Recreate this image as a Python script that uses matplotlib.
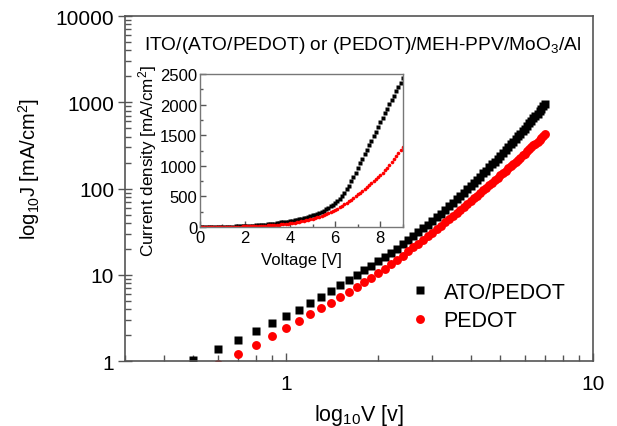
import numpy as np
import matplotlib
matplotlib.use("Agg")
import matplotlib.pyplot as plt
from matplotlib.ticker import FixedLocator, LogLocator, NullFormatter, FuncFormatter, MultipleLocator

plt.rcParams['font.family'] = ['Liberation Sans', 'DejaVu Sans']
plt.rcParams['mathtext.fontset'] = 'custom'
plt.rcParams['mathtext.rm'] = 'Liberation Sans'
plt.rcParams['mathtext.it'] = 'Liberation Sans:italic'

# log-log J-V sweep (0.5 V .. 7.0 V)
v_main = np.round(np.arange(0.5, 7.05, 0.1), 1)
j_ato_main = [1.02, 1.38, 1.77, 2.22, 2.75, 3.3, 3.95, 4.7, 5.55, 6.5, 7.55, 8.7, 9.95, 11.3, 12.8,
              14.4, 16.1, 18.1, 20.2, 22.6, 25.2, 28.0, 31.1, 34.5, 38.2,
              42.3, 46.7, 51.4, 56.6, 62.2, 68.3, 74.8, 82.0, 89.6, 97.9,
              107, 116, 127, 138, 150, 162, 176, 191, 206, 223,
              241, 260, 280, 302, 325, 349, 375, 403, 432, 463,
              496, 532, 569, 608, 650, 694, 741, 790, 842, 898, 955]
j_pedot_main = [0.72, 0.93, 1.2, 1.53, 1.93, 2.41, 2.92, 3.5, 4.1, 4.77, 5.5, 6.3, 7.3, 8.25, 9.3,
                10.4, 11.8, 13.3, 15.0, 16.7, 18.7, 20.8, 23.0, 25.5, 28.1,
                30.9, 33.9, 37.1, 40.5, 44.2, 48.1, 52.2, 56.6, 61.2, 66.2,
                71.4, 76.9, 82.8, 88.9, 95.4, 102, 109, 117, 125, 133,
                142, 151, 161, 171, 182, 193, 204, 216, 229, 242,
                255, 270, 284, 300, 316, 333, 350, 368, 387, 406, 427]

# linear J-V sweep for the inset (0 V .. 9 V)
v_inset = np.round(np.arange(0, 9.05, 0.1), 1)
j_ato_inset = [0, 0.05, 0.1, 0.3, 0.6, 1.0, 1.4, 1.8, 2.2, 2.8,
               3.3, 4.0, 4.7, 5.5, 6.5, 7.6, 8.7, 10, 11, 13,
               14, 16, 18, 20, 23, 25, 28, 31, 35, 38,
               42, 47, 51, 57, 62, 68, 74, 80, 85, 90,
               95, 102, 110, 118, 126, 135, 145, 155, 166, 178,
               190, 203, 217, 232, 250, 270, 290, 312, 337, 362,
               390, 425, 465, 510, 560, 615, 675, 745, 815, 890,
               965, 1040, 1115, 1190, 1265, 1340, 1412, 1487, 1560, 1638,
               1712, 1788, 1860, 1935, 2008, 2080, 2150, 2222, 2292, 2362, 2430]
j_pedot_inset = [0, 0.02, 0.05, 0.1, 0.3, 0.5, 0.7, 1.0, 1.3, 1.6,
                 2.0, 2.5, 3.0, 3.5, 4.2, 4.9, 5.7, 6.6, 7.6, 8.6,
                 9.7, 11, 12, 13.5, 15, 16.5, 18, 20, 22, 24,
                 26, 28, 30, 33, 36, 39, 42, 46, 50, 56,
                 62, 67, 73, 79, 85, 92, 100, 108, 116, 125,
                 135, 146, 157, 169, 182, 195, 210, 225, 241, 258,
                 275, 297, 320, 344, 369, 395, 422, 450, 478, 506,
                 535, 563, 592, 621, 650, 680, 712, 745, 779, 814,
                 850, 890, 931, 972, 1015, 1060, 1108, 1157, 1208, 1260, 1315]

labels = ["ATO/PEDOT", "PEDOT"]
spine_col = "#555555"

fig = plt.figure(figsize=(6.17, 4.27), dpi=100)
ax = fig.add_axes([0.203, 0.152, 0.758, 0.808])

ax.plot(v_main, j_ato_main, ls="none", marker="s", ms=6, color="black", mec="none", label=labels[0])
ax.plot(v_main, j_pedot_main, ls="none", marker="o", ms=6.4, color="#ff0000", mec="none", label=labels[1])

ax.set_xscale("log")
ax.set_yscale("log")
ax.set_xlim(0.3, 10)
ax.set_ylim(1, 10000)

plain = FuncFormatter(lambda v, p: f"{v:g}")
ax.xaxis.set_major_locator(FixedLocator([1, 10]))
ax.xaxis.set_major_formatter(plain)
ax.xaxis.set_minor_locator(LogLocator(base=10, subs=np.arange(2, 10)))
ax.xaxis.set_minor_formatter(NullFormatter())
ax.yaxis.set_major_locator(FixedLocator([1, 10, 100, 1000, 10000]))
ax.yaxis.set_major_formatter(plain)
ax.yaxis.set_minor_locator(LogLocator(base=10, subs=np.arange(2, 10)))
ax.yaxis.set_minor_formatter(NullFormatter())

ax.tick_params(axis="x", which="major", direction="in", length=6, width=1, color=spine_col, labelsize=15, pad=9)
ax.tick_params(axis="x", which="minor", direction="in", length=4, width=1, color=spine_col)
ax.tick_params(axis="y", which="major", direction="inout", length=10, width=1, color=spine_col, labelsize=15, pad=3)
ax.tick_params(axis="y", which="minor", direction="in", length=4, width=1, color=spine_col)
for s in ax.spines.values():
    s.set_color(spine_col)
    s.set_linewidth(1.2)

ax.set_xlabel(r"log$_{10}$V [v]", fontsize=15.5, labelpad=7)
ax.set_ylabel(r"log$_{10}$J [mA/cm$^2$]", fontsize=14.5)
ax.yaxis.set_label_coords(-0.178, 0.56)

ax.text(0.507, 0.918, r"ITO/(ATO/PEDOT) or (PEDOT)/MEH-PPV/MoO$_3$/Al",
        transform=ax.transAxes, ha="center", va="center", fontsize=13.8)

ax.legend(loc="lower right", bbox_to_anchor=(0.983, 0.03), frameon=False, fontsize=15.5,
          handletextpad=0.5, labelspacing=0.35, handlelength=1.2)

# inset: linear current density vs voltage
ins = fig.add_axes([0.324, 0.466, 0.329, 0.358])
ins.plot(v_inset, j_ato_inset, ls="none", marker="s", ms=2.2, color="black", mec="none")
ins.plot(v_inset, j_pedot_inset, ls="none", marker="o", ms=2.6, color="#ff0000", mec="none")
ins.set_xlim(0, 9)
ins.set_ylim(0, 2500)
ins.xaxis.set_major_locator(MultipleLocator(2))
ins.xaxis.set_minor_locator(MultipleLocator(1))
ins.yaxis.set_major_locator(MultipleLocator(500))
ins.yaxis.set_minor_locator(MultipleLocator(250))
ins.tick_params(which="major", direction="in", length=4, width=1, color=spine_col, labelsize=12, pad=2)
ins.tick_params(which="minor", direction="in", length=2, width=1, color=spine_col)
for s in ins.spines.values():
    s.set_color("#777777")
    s.set_linewidth(1)
ins.set_xlabel("Voltage [V]", fontsize=12, labelpad=5)
ins.set_ylabel(r"Current density [mA/cm$^2$]", fontsize=12.3)
ins.yaxis.set_label_coords(-0.2, 0.44)

fig.savefig("out.png", dpi=100)
